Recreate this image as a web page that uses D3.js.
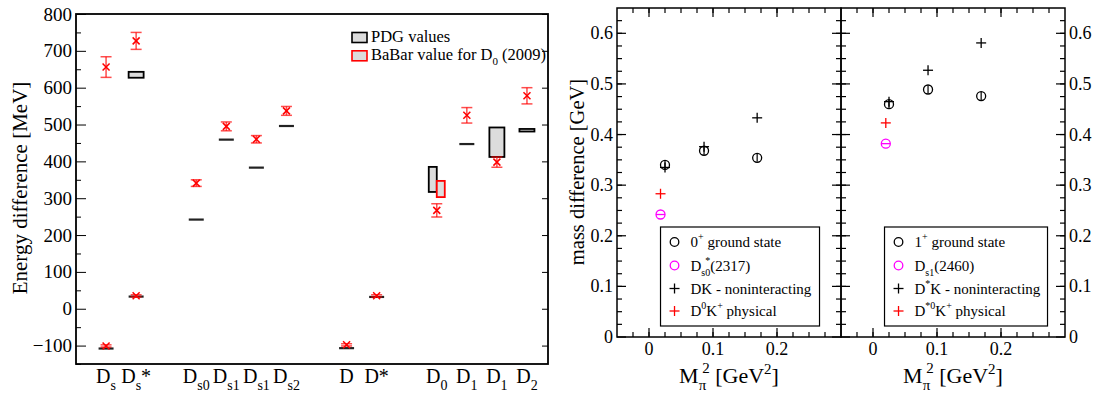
<!doctype html>
<html lang="en">
<head>
  <meta charset="utf-8">
  <script src="https://d3js.org/d3.v7.min.js"></script>
  <title>Energy differences</title>
  <style>
    body { margin: 0; background: #fff; }
    svg, svg text { font-family: "Liberation Serif", "Times New Roman", serif; }
  </style>
</head>
<body>
  <svg id="plot" width="1101" height="394"></svg>

  <script>
    // ---- left panel data (MeV) ----
    const catPos = [1, 2, 4, 5, 6, 7, 9, 10, 12, 13, 14, 15];
    const catSub = ["s", "s", "s0", "s1", "s1", "s2", "", "", "0", "1", "1", "2"];
    const catStar = ["", "*", "", "", "", "", "", "*", "", "", "", ""];

    // PDG values: lo == hi means a single line
    const pdgPos = [1, 2, 2, 4, 5, 6, 7, 9, 10, 12, 13, 14, 15];
    const pdgLo = [-108, 33, 627, 242, 459, 383, 496, -107, 32, 317, 447, 412, 481];
    const pdgHi = [-108, 33, 643, 242, 459, 383, 496, -107, 32, 385, 447, 492, 488];

    // BaBar D0 (2009)
    const babarPos = [12];
    const babarLo = [303];
    const babarHi = [347];

    // lattice results
    const latPos = [1, 1, 2, 2, 4, 5, 6, 7, 9, 10, 12, 13, 14, 15];
    const latVal = [-101, 656, 35, 727, 341, 495, 460, 537, -98, 35, 267, 525, 398, 578];
    const latErr = [3, 28, 3, 23, 9, 12, 10, 12, 3, 3, 18, 21, 14, 22];

    // ---- right panels data (GeV) ----
    const mpi2 = [0.025, 0.086, 0.169];
    const gs0 = [0.340, 0.368, 0.354];
    const nonint0 = [0.335, 0.376, 0.433];
    const gs1 = [0.460, 0.489, 0.476];
    const nonint1 = [0.465, 0.527, 0.581];
    const gsErr = [0.008, 0.008, 0.008];
    const physX = [0.018, 0.020];
    const phys = [0.283, 0.423];
    const expt = [0.242, 0.382];

    const svg = d3.select("#plot");
    const RED = "#ff0000";

    // ================= left panel =================
    const x = d3.scaleLinear().domain([0, 15.7]).range([76, 548]);
    const y = d3.scaleLinear().domain([-150, 800]).range([364, 14]);

    const left = svg.append("g");

    left.append("g")
      .attr("transform", "translate(76,0)")
      .call(d3.axisLeft(y).tickValues(d3.range(-100, 801, 100)).tickSize(-10).tickPadding(4).tickFormat(d3.format("d")))
      .attr("font-family", null).attr("font-size", null)
      .call(g => g.select(".domain").remove())
      .call(g => g.selectAll("text").style("font-size", "19px"));
    left.append("g")
      .attr("transform", "translate(76,0)")
      .call(d3.axisLeft(y).tickValues(d3.range(-150, 800, 100)).tickSize(-5).tickFormat(""))
      .call(g => g.select(".domain").remove());
    left.append("g")
      .attr("transform", "translate(548,0)")
      .call(d3.axisRight(y).tickValues(d3.range(-100, 801, 100)).tickSize(-6).tickFormat(""))
      .call(g => g.select(".domain").remove());

    left.append("rect")
      .attr("x", 76).attr("y", 14).attr("width", 472).attr("height", 350)
      .attr("fill", "none").attr("stroke", "#000").attr("stroke-width", 1.8);

    // category labels
    catPos.forEach((p, i) => {
      const t = left.append("text")
        .attr("x", x(p)).attr("y", 383)
        .attr("text-anchor", "middle")
        .style("font-size", "20px");
      t.append("tspan").text("D");
      if (catSub[i]) t.append("tspan").attr("dy", 7).style("font-size", "14px").text(catSub[i]);
      if (catStar[i]) t.append("tspan").attr("dy", catSub[i] ? -7 : 0).text(catStar[i]);
    });

    // PDG marks
    pdgPos.forEach((p, i) => {
      const cx = x(p);
      if (pdgLo[i] === pdgHi[i]) {
        left.append("line")
          .attr("x1", cx - 7.5).attr("x2", cx + 7.5)
          .attr("y1", y(pdgLo[i])).attr("y2", y(pdgLo[i]))
          .attr("stroke", "#222").attr("stroke-width", 2.2);
      } else {
        const split = babarPos.includes(p);
        left.append("rect")
          .attr("x", split ? cx - 8 : cx - 7.5)
          .attr("width", split ? 8 : 15)
          .attr("y", y(pdgHi[i])).attr("height", y(pdgLo[i]) - y(pdgHi[i]))
          .attr("fill", "#dcdcdc").attr("stroke", "#000").attr("stroke-width", 1.8);
      }
    });
    babarPos.forEach((p, i) => {
      left.append("rect")
        .attr("x", x(p)).attr("width", 8)
        .attr("y", y(babarHi[i])).attr("height", y(babarLo[i]) - y(babarHi[i]))
        .attr("fill", "#dcdcdc").attr("stroke", RED).attr("stroke-width", 1.8);
    });

    // lattice points with error bars
    latPos.forEach((p, i) => {
      const cx = x(p), cy = y(latVal[i]);
      const top = y(latVal[i] + latErr[i]), bot = y(latVal[i] - latErr[i]);
      const g = left.append("g").attr("stroke", RED).attr("stroke-width", 1.5);
      g.append("line").attr("x1", cx).attr("x2", cx).attr("y1", top).attr("y2", bot).attr("stroke-opacity", 0.7);
      g.append("line").attr("x1", cx - 5.5).attr("x2", cx + 5.5).attr("y1", top).attr("y2", top).attr("stroke-opacity", 0.7);
      g.append("line").attr("x1", cx - 5.5).attr("x2", cx + 5.5).attr("y1", bot).attr("y2", bot).attr("stroke-opacity", 0.7);
      g.append("line").attr("x1", cx - 3.5).attr("x2", cx + 3.5).attr("y1", cy - 3.5).attr("y2", cy + 3.5);
      g.append("line").attr("x1", cx - 3.5).attr("x2", cx + 3.5).attr("y1", cy + 3.5).attr("y2", cy - 3.5);
    });

    // left legend
    const lg = left.append("g");
    [["PDG values", "#000"], ["BaBar value for D", RED]].forEach((d, i) => {
      const yy = 32.5 + i * 18.3;
      lg.append("rect").attr("x", 352).attr("y", yy).attr("width", 15).attr("height", 10)
        .attr("fill", "#dcdcdc").attr("stroke", d[1]).attr("stroke-width", 1.6);
      const t = lg.append("text").attr("x", 371).attr("y", yy + 9.5).style("font-size", "16.5px").text(d[0]);
      if (i === 1) {
        t.append("tspan").attr("dy", 5).style("font-size", "11px").text("0");
        t.append("tspan").attr("dy", -5).text(" (2009)");
      }
    });

    left.append("text")
      .attr("transform", "translate(27,188) rotate(-90)")
      .attr("text-anchor", "middle")
      .style("font-size", "21px")
      .text("Energy difference [MeV]");

    // ================= right panels =================
    const yr = d3.scaleLinear().domain([0, 0.65]).range([337, 8]);
    const fmt = d => d === 0 ? "0" : d3.format(".1f")(d);

    function panel(x0, x1, gs, nonint, k, labelSide, legendRows, legendW) {
      const xs = d3.scaleLinear().domain([-0.05, 0.3]).range([x0, x1]);
      const g = svg.append("g");
      const majorY = d3.range(0, 0.61, 0.1);
      const minorY = d3.range(0.025, 0.65, 0.025);
      const majorX = [0, 0.1, 0.2];
      const minorX = d3.range(-0.025, 0.29, 0.025);

      const tick = (x1_, y1_, x2_, y2_) => g.append("line")
        .attr("x1", x1_).attr("y1", y1_).attr("x2", x2_).attr("y2", y2_)
        .attr("stroke", "#000").attr("stroke-width", 1.2);

      minorY.forEach(v => { tick(x0, yr(v), x0 + 5, yr(v)); tick(x1, yr(v), x1 - 5, yr(v)); });
      majorY.forEach(v => { tick(x0, yr(v), x0 + 9, yr(v)); tick(x1, yr(v), x1 - 9, yr(v)); });
      minorX.forEach(v => { tick(xs(v), 337, xs(v), 332); tick(xs(v), 8, xs(v), 13); });
      majorX.forEach(v => { tick(xs(v), 337, xs(v), 328); tick(xs(v), 8, xs(v), 17); });

      g.append("rect").attr("x", x0).attr("y", 8).attr("width", x1 - x0).attr("height", 329)
        .attr("fill", "none").attr("stroke", "#000").attr("stroke-width", 1.5);

      majorX.forEach(v => g.append("text").attr("x", xs(v)).attr("y", 355)
        .attr("text-anchor", "middle").style("font-size", "18px").text(fmt(v)));
      majorY.forEach(v => {
        g.append("text")
          .attr("x", labelSide === "left" ? x0 - 4 : x1 + 4)
          .attr("y", yr(v) + 6)
          .attr("text-anchor", labelSide === "left" ? "end" : "start")
          .style("font-size", "18px").text(fmt(v));
      });

      // x title
      const xt = g.append("text").attr("x", (x0 + x1) / 2).attr("y", 383)
        .attr("text-anchor", "middle").style("font-size", "22px");
      xt.append("tspan").text("M");
      xt.append("tspan").attr("dy", 7).style("font-size", "15px").text("π");
      xt.append("tspan").attr("dx", -4).attr("dy", -17).style("font-size", "15px").text("2");
      xt.append("tspan").attr("dy", 10).text(" [GeV");
      xt.append("tspan").attr("dy", -9).style("font-size", "15px").text("2");
      xt.append("tspan").attr("dy", 9).text("]");

      // data
      const circle = (cx, cy, col) => g.append("circle").attr("cx", cx).attr("cy", cy).attr("r", 4.5)
        .attr("fill", "none").attr("stroke", col).attr("stroke-width", 1.3);
      const plus = (cx, cy, col) => {
        g.append("line").attr("x1", cx - 5).attr("x2", cx + 5).attr("y1", cy).attr("y2", cy).attr("stroke", col).attr("stroke-width", 1.3);
        g.append("line").attr("x1", cx).attr("x2", cx).attr("y1", cy - 5).attr("y2", cy + 5).attr("stroke", col).attr("stroke-width", 1.3);
      };
      mpi2.forEach((m, i) => plus(xs(m), yr(nonint[i]), "#000"));
      mpi2.forEach((m, i) => {
        circle(xs(m), yr(gs[i]), "#000");
        g.append("line").attr("x1", xs(m)).attr("x2", xs(m))
          .attr("y1", yr(gs[i] + gsErr[i])).attr("y2", yr(gs[i] - gsErr[i]))
          .attr("stroke", "#000").attr("stroke-width", 1.2);
      });
      plus(xs(physX[k]), yr(phys[k]), RED);
      circle(xs(physX[k]), yr(expt[k]), "#ff00ff");
      g.append("line").attr("x1", xs(physX[k]) - 4.5).attr("x2", xs(physX[k]) + 4.5)
        .attr("y1", yr(expt[k])).attr("y2", yr(expt[k])).attr("stroke", "#ff00ff").attr("stroke-width", 1.3);

      // legend
      const lx = xs(0.018);
      g.append("rect").attr("x", lx).attr("y", 227).attr("width", legendW).attr("height", 99)
        .attr("fill", "#fff").attr("stroke", "#000").attr("stroke-width", 1.2);
      const rowY = [242, 265.5, 288.5, 311];
      const syms = [["c", "#000"], ["c", "#ff00ff"], ["p", "#000"], ["p", RED]];
      syms.forEach((s, i) => {
        if (s[0] === "c") {
          g.append("circle").attr("cx", lx + 14).attr("cy", rowY[i]).attr("r", 4.3)
            .attr("fill", "none").attr("stroke", s[1]).attr("stroke-width", 1.3);
        } else {
          g.append("line").attr("x1", lx + 9).attr("x2", lx + 19).attr("y1", rowY[i]).attr("y2", rowY[i]).attr("stroke", s[1]).attr("stroke-width", 1.3);
          g.append("line").attr("x1", lx + 14).attr("x2", lx + 14).attr("y1", rowY[i] - 5).attr("y2", rowY[i] + 5).attr("stroke", s[1]).attr("stroke-width", 1.3);
        }
        const t = g.append("text").attr("x", lx + 30).attr("y", rowY[i] + 5).style("font-size", "15px");
        legendRows[i].forEach(seg => {
          const ts = t.append("tspan").text(seg[0]);
          if (seg[1]) ts.attr("dy", seg[1]);
          if (seg[2]) ts.attr("dx", seg[2]);
          if (seg[3]) ts.style("font-size", seg[3] + "px");
        });
      });
    }

    panel(617, 841, gs0, nonint0, 0, "left", [
      [["0"], ["+", -7, 0, 10], [" ground state", 7]],
      [["D"], ["s0", 5, 0, 10], ["*", -12, -5, 10], ["(2317)", 7]],
      [["DK - noninteracting"]],
      [["D"], ["0", -7, 0, 10], ["K", 7], ["+", -7, 0, 10], [" physical", 7]]
    ], 159);

    panel(841, 1065, gs1, nonint1, 1, "right", [
      [["1"], ["+", -7, 0, 10], [" ground state", 7]],
      [["D"], ["s1", 5, 0, 10], ["(2460)", -5]],
      [["D"], ["*", -7, 0, 10], ["K - noninteracting", 7]],
      [["D"], ["*0", -7, 0, 10], ["K", 7], ["+", -7, 0, 10], [" physical", 7]]
    ], 163);

    svg.append("text")
      .attr("transform", "translate(584,172) rotate(-90)")
      .attr("text-anchor", "middle")
      .style("font-size", "20.5px")
      .text("mass difference [GeV]");
  </script>
</body>
</html>
